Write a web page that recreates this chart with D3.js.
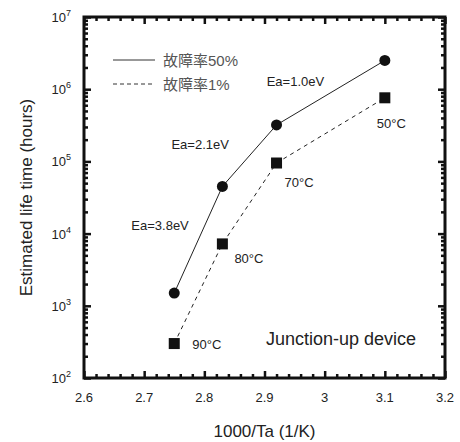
<!DOCTYPE html>
<html>
<head>
<meta charset="utf-8">
<script src="https://cdn.jsdelivr.net/npm/d3@7"></script>
<style>
  body { margin: 0; background: #fff; }
  text { font-family: "Liberation Sans", Arial, sans-serif; fill: #222; }
  .cjk { font-family: "Liberation Sans", "Noto Sans CJK JP", sans-serif; fill: #555; }
</style>
</head>
<body>
<svg id="chart" width="460" height="442"></svg>
<script>
'use strict'

// data
const invTemp   = [2.75, 2.83, 2.92, 3.1]          // 1000/Ta
const life50    = [1500, 45000, 320000, 2500000]   // 故障率50%
const life1     = [300, 7200, 95000, 760000]       // 故障率1%
const tempNames = ['90°C', '80°C', '70°C', '50°C']
const eaNames   = ['Ea=3.8eV', 'Ea=2.1eV', 'Ea=1.0eV']
const xTicks    = [2.6, 2.7, 2.8, 2.9, 3, 3.1, 3.2]
const yDecades  = [2, 3, 4, 5, 6, 7]
const legendNames = ['故障率50%', '故障率1%']

const frame = {left: 84, right: 445, top: 17, bottom: 378}
const svg = d3.select('#chart')

const x = d3.scaleLinear().domain([2.6, 3.2]).range([frame.left, frame.right])
const y = d3.scaleLog().domain([1e2, 1e7]).range([frame.bottom, frame.top])

// minor ticks
const xMinor = d3.range(2.6, 3.2001, 0.02).filter((v) => Math.abs(v * 10 - Math.round(v * 10)) > 1e-6)
const yMinor = []
yDecades.slice(0, -1).forEach((p) => { for (let d = 2; d <= 9; d++) yMinor.push(d * Math.pow(10, p)) })
const yMajor = yDecades.map((p) => Math.pow(10, p))

function tickAxis (axisFn, scale, values, size, pos) {
  const g = svg.append('g')
    .attr('transform', pos)
    .call(axisFn(scale).tickValues(values).tickSizeInner(-size).tickSizeOuter(0).tickFormat(''))
  g.select('.domain').remove()
  g.selectAll('line').attr('stroke', '#111').attr('stroke-width', 2.5)
  return g
}
tickAxis(d3.axisBottom, x, xTicks, 7, `translate(0,${frame.bottom})`)
tickAxis(d3.axisBottom, x, xMinor, 4, `translate(0,${frame.bottom})`)
tickAxis(d3.axisTop, x, xTicks, 7, `translate(0,${frame.top})`)
tickAxis(d3.axisTop, x, xMinor, 4, `translate(0,${frame.top})`)
tickAxis(d3.axisLeft, y, yMajor, 7, `translate(${frame.left},0)`)
tickAxis(d3.axisLeft, y, yMinor, 4, `translate(${frame.left},0)`)
tickAxis(d3.axisRight, y, yMajor, 7, `translate(${frame.right},0)`)
tickAxis(d3.axisRight, y, yMinor, 4, `translate(${frame.right},0)`)

// frame
svg.append('rect')
  .attr('x', frame.left).attr('y', frame.top)
  .attr('width', frame.right - frame.left).attr('height', frame.bottom - frame.top)
  .attr('fill', 'none').attr('stroke', '#111').attr('stroke-width', 3)

// x tick labels
svg.selectAll('.xlab').data(xTicks).enter().append('text')
  .attr('x', (d) => x(d)).attr('y', frame.bottom + 24)
  .attr('text-anchor', 'middle').attr('font-size', 13)
  .text((d) => d)

// y tick labels: 10 with superscript
const ylab = svg.selectAll('.ylab').data(yDecades).enter().append('text')
  .attr('x', frame.left - 13).attr('y', (d) => y(Math.pow(10, d)) + 5)
  .attr('text-anchor', 'end').attr('font-size', 13)
ylab.append('tspan').text('10')
ylab.append('tspan').attr('font-size', 9).attr('dy', -6).text((d) => d)

// axis titles
svg.append('text')
  .attr('x', (frame.left + frame.right) / 2).attr('y', 437)
  .attr('text-anchor', 'middle').attr('font-size', 17)
  .text('1000/Ta (1/K)')
svg.append('text')
  .attr('transform', `translate(32,${(frame.top + frame.bottom) / 2}) rotate(-90)`)
  .attr('text-anchor', 'middle').attr('font-size', 17)
  .text('Estimated life time (hours)')

// lines
const line50 = d3.line().x((d, i) => x(invTemp[i])).y((d) => y(d))
svg.append('path').datum(life50).attr('d', line50)
  .attr('fill', 'none').attr('stroke', '#222').attr('stroke-width', 1)
svg.append('path').datum(life1).attr('d', line50)
  .attr('fill', 'none').attr('stroke', '#222').attr('stroke-width', 1).attr('stroke-dasharray', '4,4')

// markers
svg.selectAll('.dot').data(life50).enter().append('circle')
  .attr('cx', (d, i) => x(invTemp[i])).attr('cy', (d) => y(d)).attr('r', 5.5).attr('fill', '#111')
svg.selectAll('.sq').data(life1).enter().append('rect')
  .attr('x', (d, i) => x(invTemp[i]) - 5.5).attr('y', (d) => y(d) - 5.5)
  .attr('width', 11).attr('height', 11).attr('fill', '#111')

// temperature labels beside the squares
const tempOffsets = [[18, 5], [12, 19], [8, 24], [-8, 30]]
svg.selectAll('.temp').data(tempNames).enter().append('text')
  .attr('x', (d, i) => x(invTemp[i]) + tempOffsets[i][0])
  .attr('y', (d, i) => y(life1[i]) + tempOffsets[i][1])
  .attr('font-size', 13).text((d) => d)

// activation energy labels beside the 50% segments
const eaOffsets = [[-67, -10], [-78, -7], [-64, -7]]
svg.selectAll('.ea').data(eaNames).enter().append('text')
  .attr('x', (d, i) => (x(invTemp[i]) + x(invTemp[i + 1])) / 2 + eaOffsets[i][0])
  .attr('y', (d, i) => (y(life50[i]) + y(life50[i + 1])) / 2 + eaOffsets[i][1])
  .attr('font-size', 13).text((d) => d)

// legend
const legend = svg.selectAll('.leg').data(legendNames).enter().append('g')
  .attr('transform', (d, i) => `translate(113,${60 + i * 24})`)
legend.append('line').attr('x1', 0).attr('x2', 42)
  .attr('stroke', '#333').attr('stroke-width', 1)
  .attr('stroke-dasharray', (d, i) => i ? '4,3' : null)
legend.append('text').attr('class', 'cjk')
  .attr('x', 50).attr('y', 6).attr('font-size', 15).text((d) => d)

svg.append('text')
  .attr('x', 266).attr('y', 345).attr('font-size', 18)
  .text('Junction-up device')
</script>
</body>
</html>
